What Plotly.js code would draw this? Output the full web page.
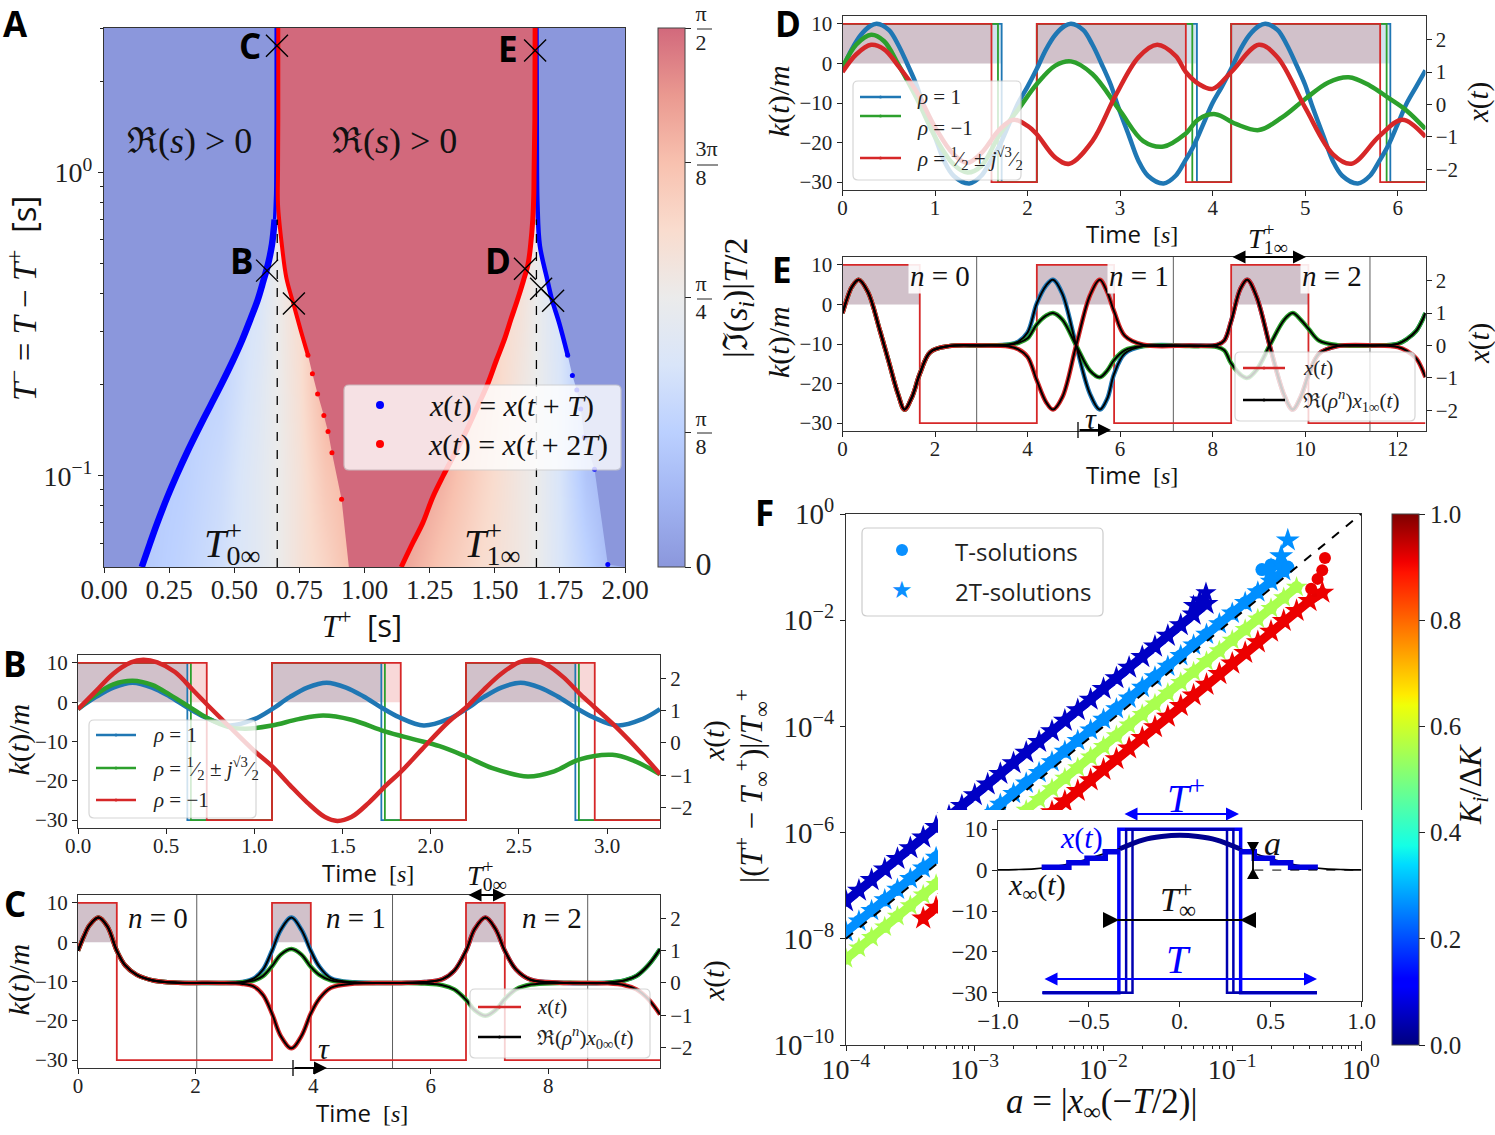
<!DOCTYPE html>
<html><head><meta charset="utf-8">
<script src="https://cdn.plot.ly/plotly-3.0.1.min.js"></script>
<style>html,body{margin:0;padding:0;background:#fff}#g{width:1495px;height:1135px}</style>
</head><body><div id="g"></div>
<script>
// ---------- Panel A: boundaries (T-, T+) ----------
const tmRows=[.05,.06,.07,.085,.1,.12,.14,.17,.2,.24,.28,.33,.38,.44,.5,.58,.7,.85,1,1.5,3];
const edge0L=[.145,.177,.205,.243,.278,.32,.358,.408,.45,.495,.53,.563,.59,.612,.63,.645,.655,.659,.66,.661,.661];
const edge1L=[1.141,1.185,1.224,1.262,1.302,1.35,1.39,1.435,1.472,1.506,1.536,1.563,1.587,1.61,1.628,1.638,1.646,1.65,1.651,1.654,1.655];
const tmR0=[.05,.0836,.119,.14,.158,.186,.217,.25,.30,.367,.45,.575,.785,1,1.5,3];
const edge0R=[.94,.912,.875,.86,.844,.82,.80,.783,.756,.728,.70,.683,.668,.668,.669,.669];
const tmR1=[.051,.105,.134,.166,.192,.214,.25,.32,.38,.45,.575,.785,1,3];
const edge1R=[1.934,1.883,1.844,1.83,1.815,1.798,1.78,1.747,1.72,1.70,1.673,1.664,1.662,1.66];
const crossX=[.664,1.655,.626,.729,1.616,1.678,1.724];
const crossY=[2.62,2.53,.475,.37,.482,.414,.378];
const phaseX=[0,.15,.3,.45,.6,.665,.75,.85,.95,1.15,1.3,1.45,1.6,1.66,1.75,1.85,1.95,2];
const phaseY=[.05,.1,.2,.4,3];
const phaseZ=[
 [.2,.22,.27,.34,.44,.5,.58,.66,.76,.84,.72,.62,.54,.5,.38,.27,.15,.1],
 [.2,.22,.25,.32,.44,.5,.58,.72,.8,.9,.8,.66,.54,.5,.37,.2,.12,.1],
 [.2,.22,.25,.28,.42,.5,.6,.8,.9,.9,.85,.7,.55,.5,.38,.2,.12,.1],
 [.2,.22,.25,.28,.38,.5,.62,.8,.9,.9,.85,.7,.58,.5,.36,.2,.12,.1],
 [.2,.22,.25,.28,.38,.5,.62,.8,.9,.9,.85,.7,.58,.5,.36,.2,.12,.1]];
// ---------- Panel B ----------
const tB1=[0,.1,.2,.31,.42,.52,.62,.72,.86,1,1.1,1.2,1.3,1.41,1.52,1.62,1.72,1.82,1.96,2.1,2.2,2.3,2.4,2.51,2.62,2.72,2.82,2.92,3.06,3.2,3.3];
const xB1=[1.05,1.42,1.72,1.87,1.72,1.44,1.1,.8,.54,.74,1.05,1.42,1.72,1.87,1.72,1.44,1.1,.8,.54,.74,1.05,1.42,1.72,1.87,1.72,1.44,1.1,.8,.54,.74,1.05];
const tB2=[0,.1,.2,.31,.42,.52,.64,.73,.85,.95,1.1,1.25,1.39,1.55,1.74,1.9,2.05,2.2,2.35,2.55,2.7,2.84,3.03,3.15,3.3];
const xB2=[1.05,1.5,1.82,1.93,1.8,1.5,1.09,.78,.5,.44,.54,.74,.85,.72,.36,.12,-.1,-.42,-.78,-1.04,-.88,-.52,-.37,-.55,-.97];
const tB3=[0,.1,.2,.3,.37,.45,.55,.65,.73,.85,1,1.1,1.2,1.3,1.4,1.47,1.55,1.65,1.75,1.83,1.95,2.1,2.2,2.3,2.4,2.5,2.57,2.65,2.75,2.85,2.93,3.05,3.2,3.3];
const xB3=[1.05,1.6,2.15,2.5,2.58,2.5,2.2,1.65,1.2,.55,-.25,-.72,-1.3,-1.85,-2.3,-2.42,-2.3,-1.85,-1.3,-.9,-.2,.65,1.1,1.65,2.15,2.5,2.58,2.45,2.05,1.5,1.1,.5,-.35,-.97];
const kEdgeB1=[0,.62,1.1,1.72,2.2,2.82,3.3];
const kEdgeB2=[0,.64,1.1,1.74,2.2,2.84,3.3];
const kEdgeB3=[0,.73,1.1,1.83,2.2,2.93,3.3];
// ---------- Panel C ----------
const tC=[0,.1,.2,.35,.5,.66,.8,1,1.3,1.7,2.4,2.8,3.0,3.15,3.3,3.45,3.63,3.8,3.96,4.1,4.3,4.7,5.5,5.9,6.2,6.4,6.6,6.75,6.93,7.1,7.26,7.45,7.7,8.2,9,9.3,9.5,9.7,9.9];
const xC1=[1,1.45,1.8,2.03,1.75,1,.55,.25,.07,.01,0,.03,.15,.42,1,1.65,2.03,1.65,1,.52,.15,.02,0,.03,.12,.38,1,1.68,2.03,1.68,1,.42,.1,.01,.01,.08,.22,.55,1.05];
const xC2=[1,1.45,1.8,2.03,1.75,1,.55,.25,.07,.01,0,.02,.08,.22,.52,.88,1.05,.88,.5,.26,.08,.01,0,-.02,-.07,-.2,-.52,-.85,-1.02,-.85,-.5,-.2,-.05,0,.01,.08,.22,.55,1.05];
const xC3=[1,1.45,1.8,2.03,1.75,1,.55,.25,.07,.01,0,-.03,-.12,-.38,-.95,-1.65,-2.03,-1.65,-.95,-.5,-.15,-.02,0,.03,.12,.38,1,1.68,2.03,1.68,1,.42,.1,.01,-.01,-.07,-.2,-.5,-.98];
const kEdgeC=[0,.66,3.3,3.96,6.6,7.26,9.9];
const gridC=[2.02,5.35,8.67];
// ---------- Panel D ----------
const tD1=[0,.1,.2,.3,.37,.5,.6,.7,.8,.87,1,1.1,1.2,1.37,1.5,1.6,1.7,1.8,1.9,2,2.1,2.2,2.3,2.4,2.47,2.6,2.7,2.8,2.9,2.97,3.1,3.2,3.3,3.47,3.6,3.7,3.8,3.9,4,4.1,4.2,4.3,4.4,4.5,4.57,4.7,4.8,4.9,5,5.07,5.2,5.3,5.4,5.57,5.7,5.8,5.9,6,6.1,6.2,6.3];
const xD1=[1.1,1.7,2.15,2.42,2.49,2.3,1.85,1.25,.6,0,-1,-1.75,-2.2,-2.44,-2.2,-1.75,-1.25,-.6,.05,.55,1.1,1.7,2.15,2.42,2.49,2.3,1.85,1.25,.6,0,-1,-1.75,-2.2,-2.44,-2.2,-1.75,-1.25,-.6,.05,.55,1.1,1.7,2.15,2.42,2.49,2.3,1.85,1.25,.6,0,-1,-1.75,-2.2,-2.44,-2.2,-1.75,-1.25,-.6,.05,.55,1.05];
const tD2=[0,.15,.31,.45,.6,.8,1,1.2,1.35,1.5,1.7,1.9,2.1,2.3,2.47,2.7,3,3.25,3.47,3.7,3.85,4.03,4.25,4.5,4.75,5,5.25,5.47,5.7,5.9,6.1,6.3];
const xD2=[1.15,1.85,2.15,1.95,1.25,.2,-1,-1.85,-2.1,-1.9,-.92,-.15,.63,1.2,1.33,.94,-.2,-1.13,-1.3,-.92,-.45,-.3,-.6,-.79,-.4,.17,.68,.84,.58,.2,-.2,-.76];
const tD3=[0,.15,.31,.45,.6,.8,1,1.2,1.35,1.5,1.7,1.85,2,2.1,2.3,2.45,2.7,2.95,3.2,3.4,3.6,3.71,3.85,4,4.2,4.5,4.7,5,5.3,5.5,5.8,6.05,6.3];
const xD3=[1,1.55,1.84,1.7,1.2,.4,-.7,-1.54,-1.8,-1.5,-.76,-.47,-.66,-.92,-1.64,-1.83,-1.13,.27,1.46,1.84,1.5,1,.63,.48,1,1.84,1.46,-.1,-1.54,-1.83,-.98,-.47,-1];
const kEdgeD1=[0,1.72,2.1,3.83,4.2,5.92,6.3];
const kEdgeD2=[0,1.68,2.1,3.78,4.2,5.88,6.3];
const kEdgeD3=[0,1.61,2.1,3.71,4.2,5.81,6.3];
// ---------- Panel E ----------
const tE=[0,.1,.2,.35,.55,.8,1,1.2,1.34,1.5,1.67,1.9,2.3,3,3.6,3.8,4,4.2,4.4,4.55,4.75,5.05,5.35,5.56,5.72,5.87,6.1,6.5,7.5,8.1,8.25,8.4,8.6,8.75,8.95,9.25,9.55,9.73,9.9,10.08,10.3,10.7,11.5,12,12.2,12.4,12.6];
const xE1=[1,1.45,1.8,2.03,1.65,.5,-.5,-1.5,-1.98,-1.6,-.88,-.2,-.02,0,.03,.12,.4,1.3,1.85,2.03,1.6,0,-1.5,-1.98,-1.65,-.88,-.25,-.02,0,.02,.15,.75,1.75,2.03,1.5,-.1,-1.55,-1.98,-1.6,-.88,-.25,-.02,0,.05,.2,.45,1];
const xE2=[1,1.45,1.8,2.03,1.65,.5,-.5,-1.5,-1.98,-1.6,-.88,-.2,-.02,0,.02,.08,.22,.65,.92,1,.8,0,-.78,-.98,-.78,-.45,-.15,-.02,-.02,-.05,-.15,-.55,-.9,-1,-.75,.05,.8,1,.8,.5,.15,.01,0,.05,.2,.45,1];
const xE3=[1,1.45,1.8,2.03,1.65,.5,-.5,-1.5,-1.98,-1.6,-.88,-.2,-.02,0,-.03,-.12,-.35,-1.08,-1.75,-1.98,-1.6,0,1.55,2.03,1.65,1.05,.3,.02,0,.02,.15,.75,1.75,2.03,1.5,-.1,-1.55,-1.98,-1.6,-.88,-.25,-.02,0,-.05,-.17,-.4,-.98];
const kEdgeE=[0,1.67,4.2,5.87,8.4,10.07,12.6];
const gridE=[2.9,7.15,11.4];
const kLevels=[10,-30,10,-30,10,-30,-30];
// ---------- Panel F ----------
const aGrid=[1e-4,1.26e-4,1.58e-4,2e-4,2.51e-4,3.16e-4,3.98e-4,5.01e-4,6.31e-4,7.94e-4,1e-3,1.26e-3,1.58e-3,2e-3,2.51e-3,3.16e-3,3.98e-3,5.01e-3,6.31e-3,7.94e-3,.01,.0126,.0158,.02,.0251,.0316,.0398,.0501,.0631,.0794,.1,.126,.158,.2,.251,.316,.398,.501];
const yDark=[5.1e-8,8.1e-8,1.28e-7,2.03e-7,3.2e-7,5.1e-7,8.1e-7,1.28e-6,2.03e-6,3.2e-6,5.1e-6,8.1e-6,1.28e-5,2.03e-5,3.2e-5,5.1e-5,8.1e-5,1.28e-4,2.03e-4,3.2e-4,5.1e-4,8.1e-4,1.28e-3,2.03e-3,3.2e-3,5.1e-3,8.1e-3,1.28e-2,2.03e-2];
const yLight=[1.35e-8,2.14e-8,3.39e-8,5.4e-8,8.5e-8,1.35e-7,2.14e-7,3.39e-7,5.4e-7,8.5e-7,1.35e-6,2.14e-6,3.39e-6,5.4e-6,8.5e-6,1.35e-5,2.14e-5,3.39e-5,5.4e-5,8.5e-5,1.35e-4,2.14e-4,3.39e-4,5.4e-4,8.5e-4,1.35e-3,2.14e-3,3.39e-3,5.4e-3,8.5e-3,1.35e-2,2.14e-2,3.39e-2,5.4e-2,8.5e-2];
const yGreen=[4.2e-9,6.7e-9,1.06e-8,1.67e-8,2.65e-8,4.2e-8,6.7e-8,1.06e-7,1.67e-7,2.65e-7,4.2e-7,6.7e-7,1.06e-6,1.67e-6,2.65e-6,4.2e-6,6.7e-6,1.06e-5,1.67e-5,2.65e-5,4.2e-5,6.7e-5,1.06e-4,1.67e-4,2.65e-4,4.2e-4,6.7e-4,1.06e-3,1.67e-3,2.65e-3,4.2e-3,6.7e-3,1.06e-2,1.67e-2,2.65e-2,4.2e-2];
const aRed=[3.98e-4,5.01e-4,6.31e-4,7.94e-4,1e-3,1.26e-3,1.58e-3,2e-3,2.51e-3,3.16e-3,3.98e-3,5.01e-3,6.31e-3,7.94e-3,.01,.0126,.0158,.02,.0251,.0316,.0398,.0501,.0631,.0794,.1,.126,.158,.2,.251,.316,.398,.501];
const yRed=[2.43e-8,3.85e-8,6.1e-8,9.7e-8,1.53e-7,2.43e-7,3.85e-7,6.1e-7,9.7e-7,1.53e-6,2.43e-6,3.85e-6,6.1e-6,9.7e-6,1.53e-5,2.43e-5,3.85e-5,6.1e-5,9.7e-5,1.53e-4,2.43e-4,3.85e-4,6.1e-4,9.7e-4,1.53e-3,2.43e-3,3.85e-3,6.1e-3,9.7e-3,1.5e-2,2.3e-2,3.3e-2];
const circEndLightA=[.17,.2,.24,.27],circEndLightY=[.09,.11,.12,.1];
const starEndLightA=[.2,.24,.27],starEndLightY=[.09,.16,.32];
const starEndDarkA=[.05,.056,.0625],starEndDarkY=[.019,.024,.033];
const circEndRedA=[.41,.46,.5,.525],circEndRedY=[.039,.06,.087,.148];
const refLineA=[1e-4,1],refLineY=[1e-8,1];
const keDark=.06,keLight=.265,keGreen=.555,keRed=.915;
// ---------- Inset ----------
const tInf=[-1,-.9,-.8,-.7,-.6,-.5,-.4,-.33,-.2,-.1,0,.1,.2,.33,.4,.5,.6,.7,.8,.9,1];
const kInf=[.05,.12,.3,.8,1.6,2.8,4.2,5.2,7.4,8.2,8.5,8.2,7.4,5.2,4.2,2.8,1.6,.8,.3,.12,.05];
const tStepL=[-.76,-.61,-.51,-.41,-.33],kStepL=[.7,1.8,2.9,4.5,4.5];
const tStepR=[.33,.41,.51,.61,.76],kStepR=[4.5,2.9,1.8,.7,.7];
const tMid=[-.33,-.2,-.1,0,.1,.2,.33],kMid=[5.2,7.4,8.2,8.5,8.2,7.4,5.2];
const squareEdges=[.335,.295,.26];
const squareEnd=.755;

const W=1495,H=1135;
const fx=p=>p/W, fy=p=>1-p/H;
const SERIF='"Liberation Serif","DejaVu Serif",serif', SANS='"Open Sans","Noto Sans",sans-serif';
const BLUE='#1f77b4',GREEN='#2ca02c',RED='#d62728';
const data=[], shapes=[], annotations=[], layout={};

function ann(x,y,text,size,o={}){annotations.push(Object.assign({xref:'paper',yref:'paper',x:fx(x),y:fy(y),text,showarrow:false,xanchor:'center',yanchor:'middle',font:{family:SERIF,size,color:o.color||'#111'}},o.extra||{}));}
const rot={extra:{textangle:-90}};
function arrow(x0,x1,y,color,both,width){annotations.push({xref:'paper',yref:'paper',x:fx(x1),y:fy(y),ax:x0-x1,ay:0,axref:'pixel',ayref:'pixel',text:'',showarrow:true,arrowhead:2,arrowsize:1.3,arrowwidth:width||2,arrowcolor:color,arrowside:both?'end+start':'end',startarrowhead:2,startarrowsize:1.3,standoff:0,startstandoff:0});}
function pline(x0,y0,x1,y1,color,width,dash){shapes.push({type:'line',xref:'paper',yref:'paper',x0:fx(x0),x1:fx(x1),y0:fy(y0),y1:fy(y1),line:{color,width,dash:dash||'solid'},layer:'above'});}
function tri(p,color){shapes.push({type:'path',xref:'paper',yref:'paper',layer:'above',path:'M'+p.map(q=>fx(q[0])+','+fy(q[1])).join(' L')+' Z',fillcolor:color,line:{color,width:0}});}
function box(l,t,r,b,col,op,lc){const c=5,P=(x,y)=>fx(x)+','+fy(y);
 shapes.push({type:'path',xref:'paper',yref:'paper',layer:'above',path:'M'+P(l+c,t)+' L'+P(r-c,t)+' Q'+P(r,t)+' '+P(r,t+c)+' L'+P(r,b-c)+' Q'+P(r,b)+' '+P(r-c,b)+' L'+P(l+c,b)+' Q'+P(l,b)+' '+P(l,b-c)+' L'+P(l,t+c)+' Q'+P(l,t)+' '+P(l+c,t)+' Z',fillcolor:col,opacity:op,line:{color:lc||'#cccccc',width:1.2}});}
// T with a stacked + and subscript, kept as one text
function mathT(x,y,size,sub,color){const ls=(.39*size).toFixed(1);ann(x,y,'<i>T</i><sup><span style="letter-spacing:-'+ls+'px">+</span></sup><sub>'+sub+'</sub>',size,{color:color||'#111'});}

function axX(id,l,r,range,tickvals,ticktext,size,extra){layout[id]=Object.assign({domain:[fx(l),fx(r)],range,tickmode:'array',tickvals,ticktext,ticks:'outside',ticklen:5,tickwidth:1,tickcolor:'#222',showline:true,linecolor:'#333',linewidth:1,mirror:true,showgrid:false,zeroline:false,ticklabelstandoff:-6,tickfont:{family:SERIF,size,color:'#222'}},extra||{});}
function axY(id,t,b,range,tickvals,ticktext,size,extra){layout[id]=Object.assign({domain:[fy(b),fy(t)],range,tickmode:'array',tickvals,ticktext,ticks:'outside',ticklen:5,tickwidth:1,tickcolor:'#222',showline:true,linecolor:'#333',linewidth:1,showgrid:false,zeroline:false,tickfont:{family:SERIF,size,color:'#222'}},extra||{});}
const TIME='<span style="font-family:\'Open Sans\'">Time</span>  [<i>s</i>]';
const KM='<i>k</i>(<i>t</i>)/<i>m</i>', XT='<i>x</i>(<i>t</i>)';
const kVals=[10,0,-10,-20,-30],kTxt=['10','0','−10','−20','−30'],xVals=[2,1,0,-1,-2],xTxt=['2','1','0','−1','−2'];

// ------- Panel A
const coolwarm=[[0,'#8b97dc'],[.125,'#a1b4f2'],[.25,'#bbd0ff'],[.375,'#d9e5f9'],[.5,'#ebebeb'],[.625,'#f9dcce'],[.75,'#f8c1af'],[.875,'#ea9990'],[1,'#d2697c']];
axX('xaxis',104,625,[0,2],[0,.25,.5,.75,1,1.25,1.5,1.75,2],['0.00','0.25','0.50','0.75','1.00','1.25','1.50','1.75','2.00'],27,{anchor:'y'});
const minorA=[.06,.07,.08,.09,.2,.3,.4,.5,.6,.7,.8,.9,2,3];
axY('yaxis',28,567,[Math.log10(.05),Math.log10(3)],[.1,1],['10<sup>−1</sup>','10<sup>0</sup>'],28,{type:'log',anchor:'x',mirror:true,minor:{tickmode:'array',tickvals:minorA,ticks:'outside',ticklen:3,tickcolor:'#222'}});
data.push({type:'heatmap',x:phaseX,y:phaseY,z:phaseZ,zmin:0,zmax:1,zsmooth:'best',colorscale:coolwarm,hoverinfo:'skip',xaxis:'x',yaxis:'y',
 colorbar:{x:fx(658),xanchor:'left',y:fy(567),yanchor:'bottom',len:539/H,lenmode:'fraction',thickness:27,thicknessmode:'pixels',xpad:0,ypad:0,outlinewidth:1,outlinecolor:'#444',borderwidth:0,tickmode:'array',tickvals:[0,.25,.5,.75,1],ticktext:['<span style="font-size:32px">0</span>','π<br>8','π<br>4','3π<br>8','π<br>2'],ticks:'outside',ticklen:6,tickcolor:'#222',tickfont:{family:SERIF,size:22,color:'#222'}}});
const poly=(x,y,c)=>data.push({type:'scatter',mode:'none',x,y,fill:'toself',fillcolor:c,hoverinfo:'skip',xaxis:'x',yaxis:'y'});
poly([0,...edge0L,0],[.05,...tmRows,3],'#8b97dc');
poly([...edge0R,...edge1L.slice().reverse()],[...tmR0,...tmRows.slice().reverse()],'#d2697c');
poly([...edge1R,2,2],[...tmR1,3,.05],'#8b97dc');
const lineA=(x,y,c,w)=>data.push({type:'scatter',mode:'lines',x,y,line:{color:c,width:w,shape:'spline'},xaxis:'x',yaxis:'y',hoverinfo:'skip'});
const dotsA=(x,y,c,s)=>data.push({type:'scatter',mode:'markers',x,y,marker:{color:c,size:s},xaxis:'x',yaxis:'y',hoverinfo:'skip'});
lineA(edge0L.slice(0,17),tmRows.slice(0,17),'#0000ff',6.5);
lineA(edge0L.slice(16),tmRows.slice(16),'#0000ff',3.5);
lineA(edge0R.slice(7),tmR0.slice(7),'#ff0000',4);
dotsA(edge0R.slice(1,8),tmR0.slice(1,8),'#ff0000',5);
lineA(edge1R.slice(6),tmR1.slice(6),'#0000ff',4.5);
dotsA(edge1R.slice(0,7),tmR1.slice(0,7),'#0000ff',5);
lineA(edge1L,tmRows,'#ff0000',5);
data.push({type:'scatter',mode:'lines',x:[.665,.665],y:[.05,.7],line:{color:'#000',width:1.3,dash:'dash'},xaxis:'x',yaxis:'y',hoverinfo:'skip'});
data.push({type:'scatter',mode:'lines',x:[1.66,1.66],y:[.05,.7],line:{color:'#000',width:1.3,dash:'dash'},xaxis:'x',yaxis:'y',hoverinfo:'skip'});
data.push({type:'scatter',mode:'markers',x:crossX,y:crossY,marker:{symbol:'x-thin',size:22,line:{color:'#000',width:1.4}},xaxis:'x',yaxis:'y',hoverinfo:'skip'});
ann(189,141,'ℜ(<i>s</i>) > 0',36);ann(394,141,'ℜ(<i>s</i>) > 0',36);
mathT(232,543,40,'0∞');mathT(492,543,40,'1∞');
ann(738,298,'|ℑ(<i>s<sub>i</sub></i>)|<i>T</i>/2',34,rot);
[[29,15],[165,21],[299,15],[433,15]].forEach(q=>pline(697,q[0],697+q[1],q[0],'#222',1));
ann(24,299,'<i>T</i><sup>−</sup> = <i>T</i> − <i>T</i><sup>+</sup>  <span style="font-family:\'Open Sans\'">[s]</span>',33,rot);
ann(362,625,'<i>T</i><sup>+</sup>  <span style="font-family:\'Open Sans\'">[s]</span>',31);
box(344,385,621,470,'#ffffff',.8);
shapes.push({type:'circle',xref:'paper',yref:'paper',layer:'above',x0:fx(376),x1:fx(384),y0:fy(409),y1:fy(401),fillcolor:'#0000ff',line:{width:0}});
shapes.push({type:'circle',xref:'paper',yref:'paper',layer:'above',x0:fx(376),x1:fx(384),y0:fy(448),y1:fy(440),fillcolor:'#ff0000',line:{width:0}});
ann(511,406,'<i>x</i>(<i>t</i>) = <i>x</i>(<i>t</i> + <i>T</i>)',30);ann(518,445,'<i>x</i>(<i>t</i>) = <i>x</i>(<i>t</i> + 2<i>T</i>)',30);

// ------- Time panels
function panel(n,l,r,t,b,xmax,tickvals,ticktext,size,titleX,kx,rx){
 const xid='xaxis'+n.x,yk='yaxis'+n.k,yx='yaxis'+n.r;
 axX(xid,l,r,[0,xmax],tickvals,ticktext,size,{anchor:'y'+n.k});
 axY(yk,t,b,[-32,12],kVals,kTxt,size,{anchor:'x'+n.x});
 axY(yx,t,b,[-2.64,2.73],xVals,xTxt,size,{anchor:'x'+n.x,overlaying:'y'+n.k,side:'right'});
 ann(titleX,b+44,TIME,24);
 ann(kx,(t+b)/2-2,KM,30,rot);
 ann(rx,(t+b)/2,XT,29,rot);
}
function fillPulse(edges,c,n){const x=[],y=[];for(let i=0;i<edges.length-1;i+=2){x.push(edges[i],edges[i+1],edges[i+1],edges[i],null);y.push(0,0,10,10,null);}
 data.push({type:'scatter',mode:'none',x,y,fill:'toself',fillcolor:c,xaxis:'x'+n.x,yaxis:'y'+n.k,hoverinfo:'skip'});}
const sq=(edges,c,n,w)=>data.push({type:'scatter',mode:'lines',x:edges,y:kLevels,line:{color:c,width:w||1.8,shape:'hv'},xaxis:'x'+n.x,yaxis:'y'+n.k,hoverinfo:'skip'});
const cur=(t,x,c,w,n)=>data.push({type:'scatter',mode:'lines',x:t,y:x,line:{color:c,width:w,shape:'spline',smoothing:1},xaxis:'x'+n.x,yaxis:'y'+n.r,hoverinfo:'skip'});
const vgrid=(vals,n)=>{const x=[],y=[];vals.forEach(v=>{x.push(v,v,null);y.push(-32,12,null);});data.push({type:'scatter',mode:'lines',x,y,line:{color:'#333',width:.8},xaxis:'x'+n.x,yaxis:'y'+n.k,hoverinfo:'skip'});};
const a1='rgba(31,119,180,.2)',a2='rgba(44,160,44,.01)',a3='rgba(214,39,40,.18)';
function leg(l,t,r,b,x0,x1,items,tx){box(l,t,r,b,'#ffffff',.8);items.forEach(it=>{pline(x0,it[0],x1,it[0],it[1],2.4);const m=(x0+x1)/2;shapes.push({type:'circle',xref:'paper',yref:'paper',layer:'above',x0:fx(m-1.5),x1:fx(m+1.5),y0:fy(it[0]+1.5),y1:fy(it[0]-1.5),fillcolor:it[1],line:{width:0}});
 annotations.push({xref:'paper',yref:'paper',x:fx(tx),y:fy(it[3]||it[0]),text:it[2],showarrow:false,xanchor:'left',yanchor:'middle',font:{family:SERIF,size:21,color:'#222'}});});}
const R1='<i>ρ</i> = 1',RM='<i>ρ</i> = −1',RC='<i>ρ</i> = <sup>1</sup>⁄<sub>2</sub> ± <i>j</i><sup>√3</sup>⁄<sub>2</sub>';

// B
const nB={x:2,k:2,r:3};
panel(nB,78,660,655,828,3.3,[0,.5,1,1.5,2,2.5,3],['0.0','0.5','1.0','1.5','2.0','2.5','3.0'],21,368,18,714);
fillPulse(kEdgeB1.slice(0,6),a1,nB);fillPulse(kEdgeB2.slice(0,6),a2,nB);fillPulse(kEdgeB3.slice(0,6),a3,nB);
sq(kEdgeB1,BLUE,nB);sq(kEdgeB2,GREEN,nB);sq(kEdgeB3,RED,nB);
cur(tB1,xB1,BLUE,4.5,nB);cur(tB2,xB2,GREEN,4.5,nB);cur(tB3,xB3,RED,4.5,nB);
leg(89,720,256,818,96,136,[[735,BLUE,R1],[768,GREEN,RC],[800,RED,RM]],151);
// C
const nC={x:3,k:4,r:5};
panel(nC,78,660,895,1068,9.9,[0,2,4,6,8],['0','2','4','6','8'],21,362,18,714);
vgrid(gridC,nC);
fillPulse(kEdgeC.slice(0,6),a1,nC);fillPulse(kEdgeC.slice(0,6),a2,nC);fillPulse(kEdgeC.slice(0,6),a3,nC);
sq(kEdgeC,RED,nC);
cur(tC,xC1,BLUE,4.5,nC);cur(tC,xC2,GREEN,4.5,nC);cur(tC,xC3,RED,4.5,nC);
cur(tC,xC1,'#000',2,nC);cur(tC,xC2,'#000',2,nC);cur(tC,xC3,'#000',2,nC);
leg(470,989,650,1058,478,521,[[1007,RED,XT],[1037,'#000','ℜ(<i>ρ<sup>n</sup></i>)<i>x</i><sub>0∞</sub>(<i>t</i>)']],535);
ann(158,918,'<i>n</i> = 0',29);ann(356,918,'<i>n</i> = 1',29);ann(552,918,'<i>n</i> = 2',29);
ann(324,1048,'<i>τ</i>',30);arrow(293,327,1068,'#000',false);pline(293,1060,293,1076,'#000',1.3);
arrow(467,506,895,'#000',true);mathT(487,875,28,'0∞');
// D
const nD={x:4,k:6,r:7};
panel(nD,842.5,1425.5,16,190,6.3,[0,1,2,3,4,5,6],['0','1','2','3','4','5','6'],21,1132,779,1479);
fillPulse(kEdgeD1.slice(0,6),a1,nD);fillPulse(kEdgeD2.slice(0,6),a2,nD);fillPulse(kEdgeD3.slice(0,6),a3,nD);
sq(kEdgeD1,BLUE,nD);sq(kEdgeD2,GREEN,nD);sq(kEdgeD3,RED,nD);
cur(tD1,xD1,BLUE,4.5,nD);cur(tD2,xD2,GREEN,4.5,nD);cur(tD3,xD3,RED,4.5,nD);
leg(853,81,1021,180,860,901,[[97,BLUE,R1],[116,GREEN,RM,128],[158,RED,RC]],915);
// E
const nE={x:5,k:8,r:9};
panel(nE,842.5,1425.5,257,431,12.6,[0,2,4,6,8,10,12],['0','2','4','6','8','10','12'],21,1132,779,1479);
vgrid(gridE,nE);
fillPulse(kEdgeE.slice(0,6),a1,nE);fillPulse(kEdgeE.slice(0,6),a2,nE);fillPulse(kEdgeE.slice(0,6),a3,nE);
sq(kEdgeE,RED,nE);
cur(tE,xE1,BLUE,4.5,nE);cur(tE,xE2,GREEN,4.5,nE);cur(tE,xE3,RED,4.5,nE);
cur(tE,xE1,'#000',2,nE);cur(tE,xE2,'#000',2,nE);cur(tE,xE3,'#000',2,nE);
leg(1235,352,1415,421,1243,1285,[[368,RED,XT],[400,'#000','ℜ(<i>ρ<sup>n</sup></i>)<i>x</i><sub>1∞</sub>(<i>t</i>)']],1301);
[[940,'0'],[1139,'1'],[1332,'2']].forEach(q=>annotations.push({xref:'paper',yref:'paper',x:fx(q[0]),y:fy(276),text:'<i>n</i> = '+q[1],showarrow:false,xanchor:'center',yanchor:'middle',bgcolor:'rgba(255,255,255,.9)',font:{family:SERIF,size:29,color:'#111'}}));
ann(1091,418,'<i>τ</i>',30);arrow(1078,1111,430,'#000',false);pline(1078,422,1078,438,'#000',1.3);
arrow(1231,1306,257,'#000',true);mathT(1268,238,28,'1∞');

// ------- Panel F
const jet=[[0,'#00007f'],[.11,'#0000ff'],[.125,'#0000ff'],[.34,'#00dbff'],[.375,'#14ffe6'],[.64,'#f0ff08'],[.66,'#ffeb00'],[.89,'#ff1200'],[.91,'#f20000'],[1,'#7f0000']];
const minorF=[];[-4,-3,-2,-1].forEach(d=>[2,3,4,5,6,7,8,9].forEach(m=>minorF.push(m*Math.pow(10,d))));
axX('xaxis6',846,1361,[-4,0],[1e-4,1e-3,1e-2,1e-1,1],['10<sup>−4</sup>','10<sup>−3</sup>','10<sup>−2</sup>','10<sup>−1</sup>','10<sup>0</sup>'],28,{type:'log',anchor:'y10',minor:{tickmode:'array',tickvals:minorF,ticks:'outside',ticklen:3,tickcolor:'#222'}});
axY('yaxis10',514,1045,[-10,0],[1e-10,1e-8,1e-6,1e-4,1e-2,1],['10<sup>−10</sup>','10<sup>−8</sup>','10<sup>−6</sup>','10<sup>−4</sup>','10<sup>−2</sup>','10<sup>0</sup>'],29,{type:'log',anchor:'x6',mirror:true});
ann(1102,1103,'<i>a</i> = |<i>x</i><sub>∞</sub>(−<i>T</i>/2)|',35);
ann(752,786,'|(<i>T</i><sup>+</sup> − <i>T</i><sub>∞</sub><sup>+</sup>)|/<i>T</i><sub>∞</sub><sup>+</sup>',31,rot);
function fs(x,y,v,sym,sz,show){const m={symbol:sym,size:sz,color:y.map(()=>v),cmin:0,cmax:1,colorscale:jet};
 if(show){m.showscale=true;m.colorbar={x:fx(1392),xanchor:'left',y:fy(1045),yanchor:'bottom',len:531/H,lenmode:'fraction',thickness:27,thicknessmode:'pixels',xpad:0,ypad:0,outlinewidth:1,outlinecolor:'#444',borderwidth:0,tickmode:'array',tickvals:[0,.2,.4,.6,.8,1],ticktext:['0.0','0.2','0.4','0.6','0.8','1.0'],ticks:'outside',ticklen:6,tickcolor:'#222',tickfont:{family:SERIF,size:25,color:'#222'}};}
 data.push({type:'scatter',mode:'markers',x,y,marker:m,xaxis:'x6',yaxis:'y10',hoverinfo:'skip'});}
const band=(x,y,c,w)=>data.push({type:'scatter',mode:'lines',x,y,line:{color:c,width:w},xaxis:'x6',yaxis:'y10',hoverinfo:'skip'});
const sl=n=>aGrid.slice(0,n);
band(sl(yDark.length),yDark,'#0000c5',9);band(sl(yLight.length),yLight,'#008fff',9);band(sl(yGreen.length),yGreen,'#a8ff4d',9);band(aRed,yRed,'#e80000',9);
fs(sl(yDark.length),yDark,keDark,'circle',11,true);fs(sl(yDark.length),yDark,keDark,'star',18);fs(starEndDarkA,starEndDarkY,keDark,'star',16);
fs(sl(yLight.length),yLight,keLight,'circle',13);fs(sl(yLight.length),yLight,keLight,'star',17);fs(circEndLightA,circEndLightY,keLight,'circle',13);fs(starEndLightA,starEndLightY,keLight,'star',18);
fs(sl(yGreen.length),yGreen,keGreen,'circle',12);fs(sl(yGreen.length),yGreen,keGreen,'star',16);
fs(aRed,yRed,keRed,'circle',11);fs(aRed,yRed,keRed,'star',18);fs(circEndRedA,circEndRedY,keRed,'circle',12);
data.push({type:'scatter',mode:'lines',x:refLineA,y:refLineY,line:{color:'#000',width:2,dash:'dash'},xaxis:'x6',yaxis:'y10',hoverinfo:'skip'});
// white backing of the inset
layout.xaxis7={domain:[fx(938),fx(1378)],range:[0,1],visible:false,anchor:'y11'};
layout.yaxis11={domain:[fy(1041),fy(810)],range:[0,1],visible:false,anchor:'x7'};
data.push({type:'scatter',mode:'none',x:[0,1,1,0],y:[0,0,1,1],fill:'toself',fillcolor:'#ffffff',xaxis:'x7',yaxis:'y11',hoverinfo:'skip'});
// inset
axX('xaxis8',998,1361.5,[-1,1],[-1,-.5,0,.5,1],['−1.0','−0.5','0.','0.5','1.0'],23,{anchor:'y12'});
axY('yaxis12',821,1001,[-32,12],kVals,kTxt,23,{anchor:'x8',mirror:true});
const ins=(x,y,c,w,s,d)=>data.push({type:'scatter',mode:'lines',x,y,line:{color:c,width:w,shape:s||'linear',dash:d||'solid'},xaxis:'x8',yaxis:'y12',hoverinfo:'skip'});
squareEdges.forEach((e,i)=>ins([-squareEnd,-e,-e,e,e,squareEnd],[-30,-30,10,10,-30,-30],i==0?'#0000ff':'#0000b0',i==0?3.5:2.5));
data.push({type:'scatter',mode:'lines',x:tInf,y:kInf,line:{color:'#000',width:1.6,shape:'spline'},xaxis:'x8',yaxis:'y12',hoverinfo:'skip'});
ins(tStepL,kStepL,'#0000e0',5.5,'hv');ins(tStepR,kStepR,'#0000e0',5.5,'hv');
data.push({type:'scatter',mode:'lines',x:tMid,y:kMid,line:{color:'#00008f',width:5,shape:'spline'},xaxis:'x8',yaxis:'y12',hoverinfo:'skip'});
ins([.41,1],[0,0],'#000',1,'linear','dash');
arrow(1123,1239,814,'#0000ff',true);arrow(1043,1317,979,'#0000ff',true);
ann(1178,959,'<i>T</i>',40,{color:'#0000ff'});
ann(1186,795,'<i>T</i><sup>+</sup>',40,{color:'#0000ff'});
ann(1081,838,XT,30,{color:'#0000ff'});
ann(1037,887,'<i>x</i><sub>∞</sub>(<i>t</i>)',30);
ann(1272,843,'<i>a</i>',34);
mathT(1178,899,34,'∞');
pline(1118,920,1242,920,'#000',1.8);
tri([[1103,912],[1119,920],[1103,928]],'#000');
tri([[1256,912],[1240,920],[1256,928]],'#000');
pline(1253,848,1253,874,'#000',1.8);
tri([[1247,842],[1259,842],[1253,853]],'#000');tri([[1247,879],[1259,879],[1253,868]],'#000');
box(862,528,1103,616,'#ffffff',1);
shapes.push({type:'circle',xref:'paper',yref:'paper',layer:'above',x0:fx(896),x1:fx(908),y0:fy(556),y1:fy(544),fillcolor:'#0a90ff',line:{width:0}});
ann(902,590,'★',24,{color:'#0a90ff',extra:{font:{family:'DejaVu Sans',size:24,color:'#0a90ff'}}});
annotations.push({xref:'paper',yref:'paper',x:fx(953),y:fy(551),text:'T-solutions',showarrow:false,xanchor:'left',font:{family:SANS,size:24,color:'#222'}});
annotations.push({xref:'paper',yref:'paper',x:fx(953),y:fy(591),text:'2T-solutions',showarrow:false,xanchor:'left',font:{family:SANS,size:24,color:'#222'}});
ann(1472,785,'<i>K<sub>i</sub></i>/Δ<i>K</i>',32,rot);

// panel letters
[['A',15,24],['B',15,663],['C',15,903],['D',788,24],['E',782,270],['F',764,512],['C',250,46],['E',508,48],['B',242,260],['D',498,260]].forEach(q=>annotations.push({xref:'paper',yref:'paper',x:fx(q[1]),y:fy(q[2]),text:'<b>'+q[0]+'</b>',showarrow:false,xanchor:'center',yanchor:'middle',font:{family:SANS,size:35,color:'#000'}}));

Object.assign(layout,{width:W,height:H,margin:{l:0,r:0,t:0,b:0},showlegend:false,paper_bgcolor:'#fff',plot_bgcolor:'#fff',shapes,annotations,hovermode:false});
Plotly.newPlot('g',data,layout,{displayModeBar:false,staticPlot:true});
</script></body></html>
